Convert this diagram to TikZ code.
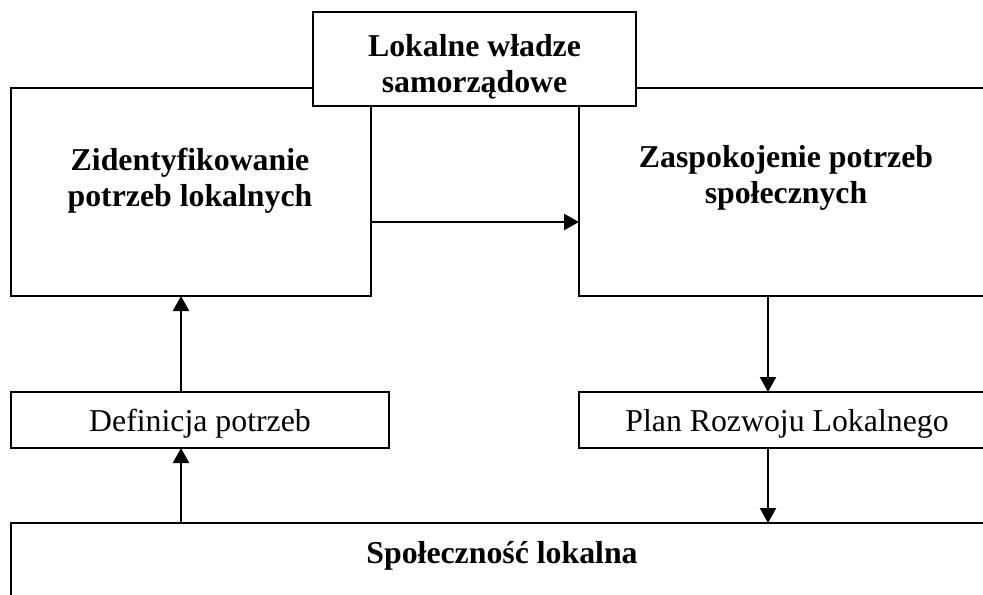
\documentclass[tikz,border=0pt]{standalone}
\usepackage{fontspec}
\setmainfont{Liberation Serif}
\usetikzlibrary{arrows.meta}
\begin{document}
\begin{tikzpicture}[x=0.5pt,y=-0.5pt,
  box/.style={draw=black,line width=1.2pt,fill=white,rectangle,inner sep=0pt,outer sep=0pt,anchor=north west},
  txt/.style={inner sep=0pt,align=center,font=\fontsize{15.9pt}{18pt}\selectfont},
  btxt/.style={txt,font=\fontsize{15.9pt}{18pt}\selectfont\bfseries},
  arr/.style={line width=1.2pt,-{Triangle[length=7.5pt,width=8pt]}}]
\useasboundingbox (0,0) rectangle (983,594);
\clip (0,0) rectangle (983,594);
% boxes
\node[box,minimum width=180pt,minimum height=104pt] (left) at (11,88) {};
\node[box,minimum width=208pt,minimum height=104pt] (right) at (579,88) {};
\node[box,minimum width=161.5pt,minimum height=47pt] (top) at (313,12) {};
\node[box,minimum width=189pt,minimum height=28pt] (def) at (11,392) {};
\node[box,minimum width=208pt,minimum height=28pt] (plan) at (579,392) {};
\node[box,minimum width=492pt,minimum height=50pt] (soc) at (11,523) {};
% texts
\node[btxt] (ttop) at (474.5,67) {Lokalne władze\\samorządowe};
\node[btxt] (tleft) at (190,181) {Zidentyfikowanie\\potrzeb lokalnych};
\node[btxt] (tright) at (786,177.5) {Zaspokojenie potrzeb\\społecznych};
\node[txt,anchor=base] (tdef) at (200,431) {Definicja potrzeb};
\node[txt,anchor=base] (tplan) at (787,431) {Plan Rozwoju Lokalnego};
\node[btxt,anchor=base] (tsoc) at (502,563) {Społeczność lokalna};
% connector helpers
\coordinate (h1) at (371,222);
\coordinate (cx1) at (181,0);
\coordinate (cx2) at (768,0);
% connectors
\draw[arr] (h1) -- (h1 -| right.west);
\draw[arr] (cx1 |- def.north) -- (cx1 |- left.south);
\draw[arr] (cx1 |- soc.north) -- (cx1 |- def.south);
\draw[arr] (cx2 |- right.south) -- (cx2 |- plan.north);
\draw[arr] (cx2 |- plan.south) -- (cx2 |- soc.north);
\end{tikzpicture}
\end{document}
